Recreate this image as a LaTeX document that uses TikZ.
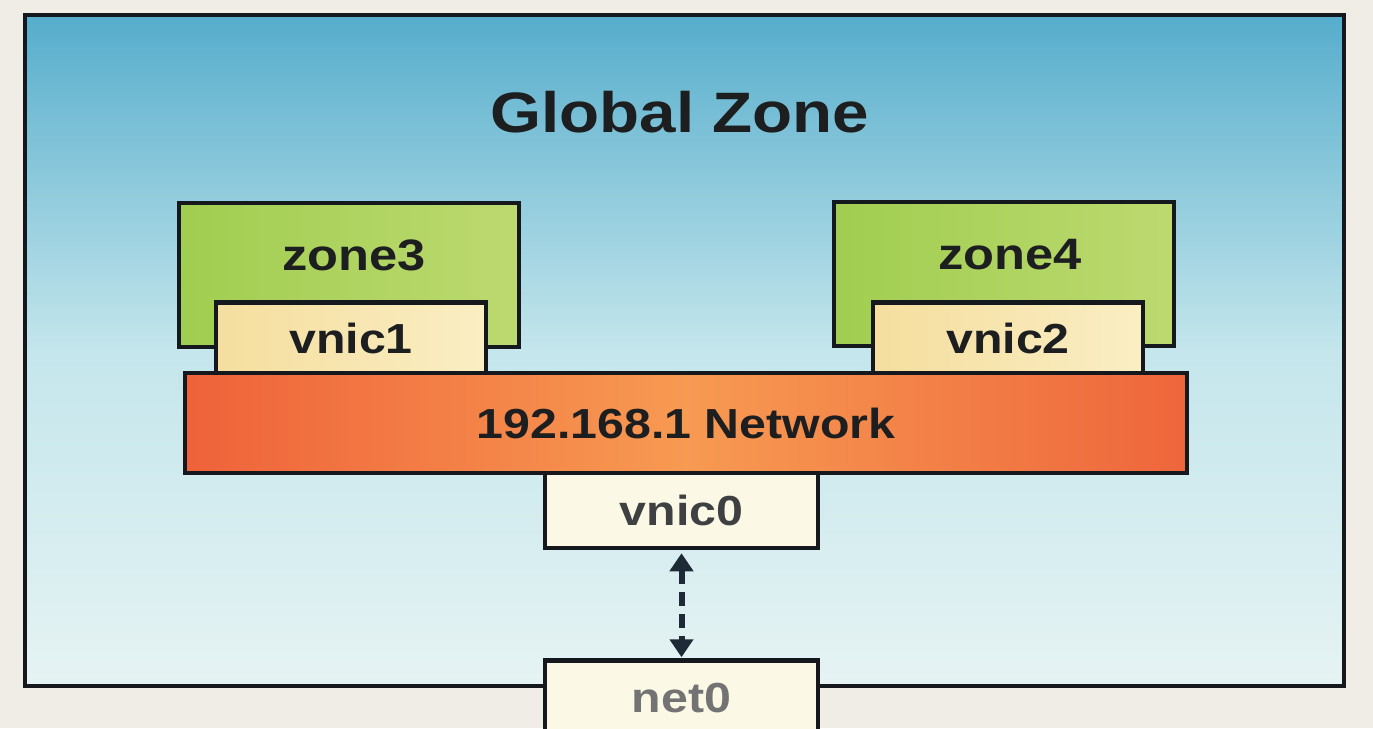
\documentclass[tikz,border=0pt]{standalone}
\usepackage{fontspec}
\setmainfont[FakeStretch=1.15]{Liberation Sans}
\usetikzlibrary{arrows.meta,positioning}
\definecolor{pagebg}{HTML}{EFEDE6}
\definecolor{frame}{HTML}{15191D}
\definecolor{skytop}{HTML}{56ADCC}
\definecolor{skymid}{HTML}{C4E6EC}
\definecolor{skylow}{HTML}{E6F3F3}
\definecolor{zoneleft}{HTML}{A0CE50}
\definecolor{zoneright}{HTML}{BDD970}
\definecolor{nicleft}{HTML}{F5DE9E}
\definecolor{nicright}{HTML}{FAEEC4}
\definecolor{netleft}{HTML}{EF623A}
\definecolor{netmid}{HTML}{F79A52}
\definecolor{netright}{HTML}{EE663C}
\definecolor{cream}{HTML}{FBF8E6}
\definecolor{ink}{HTML}{1C1E20}
\definecolor{arrowink}{HTML}{1E2A36}

\begin{document}
\begin{tikzpicture}[
  x=1pt, y=-1pt,
  box/.style={
    draw=frame,
    line width=4.5pt,
    inner sep=0pt
  },
  globalzone/.style={
    box,
    top color=skytop,
    bottom color=skylow,
    middle color=skymid,
    minimum width=1319pt,
    minimum height=671pt
  },
  zonebox/.style={
    box,
    left color=zoneleft,
    right color=zoneright,
    minimum width=340pt,
    minimum height=144pt
  },
  nicbox/.style={
    box,
    left color=nicleft,
    right color=nicright,
    minimum width=270pt,
    minimum height=71pt,
    text=ink,
    font=\fontsize{42}{48}\selectfont\bfseries
  },
  plainbox/.style={
    box,
    fill=cream,
    minimum width=273pt,
    minimum height=75pt,
    font=\fontsize{42}{48}\selectfont\bfseries
  },
  netbar/.style={
    box,
    left color=netleft,
    right color=netright,
    middle color=netmid,
    minimum width=1002pt,
    minimum height=100pt,
    text=ink,
    font=\fontsize{42}{48}\selectfont\bfseries
  },
  zonename/.style={
    text=ink,
    font=\fontsize{44}{50}\selectfont\bfseries
  },
  link/.style={
    {Triangle[length=18pt,width=23pt]}-{Triangle[length=18pt,width=23pt]},
    draw=arrowink,
    line width=6pt,
    dash pattern=on 14pt off 8pt,
    shorten <=3pt,
    shorten >=1pt
  }
]
\clip (0,0) rectangle (1373,728);
\fill[pagebg] (0,0) rectangle (1373,728);

\node[globalzone] (global) at (684.5,350.5) {};
\node[text=ink, font=\fontsize{57}{64}\selectfont\bfseries] (globaltitle) at (680,112) {Global Zone};

\node[zonebox] (zone3) at (349,275) {};
\node[zonebox] (zone4) at (1004,274) {};
\node[zonename] (zone3name) at (354,255) {zone3};
\node[zonename] (zone4name) at (1010,255) {zone4};

\node[nicbox] (vnic1) at (351,338) {vnic1};
\node[nicbox] (vnic2) at (1008,338) {vnic2};

\node[plainbox, text=ink!85] (vnic0) at (681.5,510.5) {vnic0};
\node[netbar] (network) at (686,423) {192.168.1 Network};

\node[plainbox, text=black!55] (net0) at (681.5,698) {net0};

\draw[link] (vnic0.south) -- (net0.north);
\end{tikzpicture}
\end{document}
